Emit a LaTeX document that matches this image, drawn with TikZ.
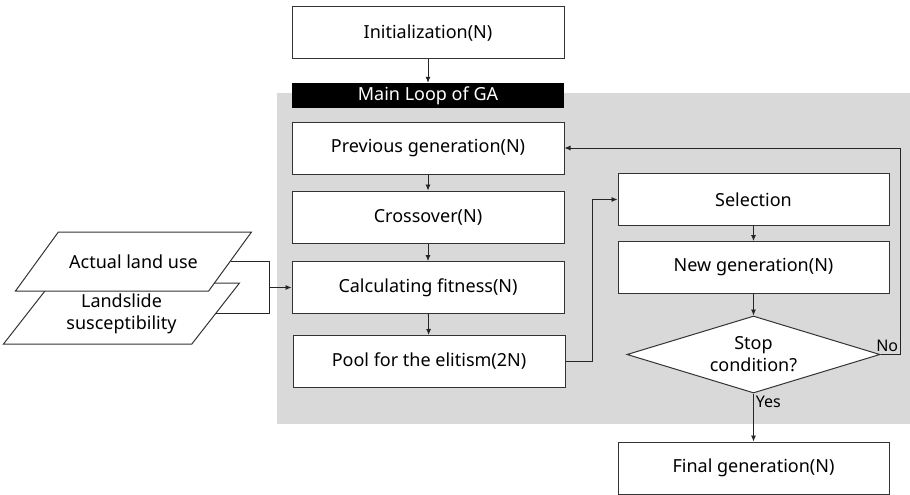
\documentclass[tikz,border=0pt]{standalone}
\usepackage{fontspec}
\setmainfont{Noto Sans}
\usetikzlibrary{shapes.geometric, arrows.meta}

\begin{document}
\begin{tikzpicture}[x=1pt, y=-1pt,
 font=\fontsize{18}{22}\selectfont,
every edge/.style = {draw=black!85, line width=0.8pt, -{Latex[length=6pt,width=5pt]}},
    link/.style = {draw=black!85, line width=0.8pt},
 stepbox/.style = {rectangle, draw=black!80, line width=1pt, fill=white,
      minimum width=272pt, minimum height=52pt, inner sep=0pt},
   layer/.style = {trapezium, trapezium left angle=52, trapezium right angle=128,
      trapezium stretches body=true, draw=black!80, line width=1pt, fill=white,
      minimum width=236pt, minimum height=59pt, inner xsep=0pt, inner ysep=#1,
      align=center},
  decide/.style = {diamond, aspect=3.3, draw=black!80, line width=1pt, fill=white,
      minimum width=253pt, minimum height=77pt, inner sep=0pt, align=center}
                    ]
\useasboundingbox (0,0) rectangle (910,495);
\fill[black!15] (277,93) rectangle (910,424);
%
\node(init) [stepbox] at (428,33)    {Initialization(N)};
\node(bar)  [rectangle, fill=black, text=white, minimum width=272pt,
             minimum height=25pt, inner sep=0pt] at (428,95.5) {Main Loop of GA};
\node(prev) [stepbox] at (428,148)   {Previous generation(N)};
\node(cros) [stepbox] at (428,217)   {Crossover(N)};
\node(fit)  [stepbox] at (428,287.5) {Calculating fitness(N)};
\node(pool) [stepbox] at (429,361.5) {Pool for the elitism(2N)};
\node(sel)  [stepbox, minimum width=271pt] at (753.5,199.5) {Selection};
\node(newg) [stepbox, minimum width=271pt] at (753.5,267.5) {New generation(N)};
\node(stop) [decide] at (753.5,354.5) {Stop\\condition?};
\node(fin)  [stepbox, minimum width=271pt] at (753.5,468)   {Final generation(N)};
%
\node(slide)  [layer=10.5pt] at (121.5,313.5) {Landslide\\susceptibility};
\node(actual) [layer=20.5pt] at (133.5,261.5) {Actual land use};
\coordinate (join) at (269,287.5);
%
\path   (init) edge (bar)
        (prev) edge (cros)
        (cros) edge (fit)
        (fit)  edge (pool)
        (sel)  edge (newg)
        (newg) edge (stop)
        (stop) edge node[pos=0, below right, inner sep=2pt, font=\fontsize{16}{19}\selectfont] {Yes} (fin)
        (join) edge (fit);
\draw[link] (actual.east) -| (join);
\draw[link] (slide.east) -| (join);
\draw[link, -{Latex[length=6pt,width=5pt]}] (pool.east) -- ++(27,0) |- (sel.west);
\draw[link, -{Latex[length=6pt,width=5pt]}] (stop.east) -- ++(20,0)
        node[above left, inner sep=2pt, font=\fontsize{16}{19}\selectfont] {No} |- (prev.east);
\end{tikzpicture}
\end{document}
